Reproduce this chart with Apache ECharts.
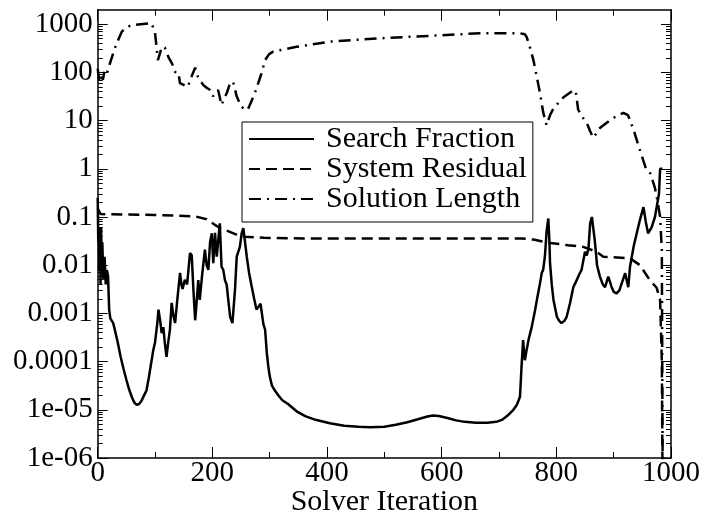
<!DOCTYPE html>
<html>
<head>
<meta charset="utf-8">
<script src="https://cdn.jsdelivr.net/npm/echarts@6/dist/echarts.min.js"></script>
<style>
html,body{margin:0;padding:0;background:#fff;}
#chart{width:704px;height:515px;}
</style>
</head>
<body>
<div id="chart"></div>
<script>
// ---- Data ----
const seriesNames = ['Search Fraction', 'System Residual', 'Solution Length'];

const sfIter = [0,1,2,3,4,5,6,7,8,10,12,14,16,18,20,22,27,30,35,40,45,50,55,60,64,68,72,76,80,85,89,93,97,100,104,106,109,111.6,114.5,117,120,123,126,129,132,135,139,143.6,146,148,152,156,161,164,167,170,173,175.5,178,182,187,190,193,196,199,201.6,204.6,207.6,210,213,216,219,222,225,228,231,235,239.5,242.5,248,251,254,257,260,264,268.6,273,277,281,284,286,289,292,295,297.6,300,304,309,315,322,332,347,362,380,405,430,455,475,500,520,540,560,575,585,595,610,625,640,660,680,695,705,715,725,731,736.6,739,742,745,748,752,757,763,767,771.5,774.5,777,780,783,786,788,789,792,795,801,805,809,814,818,824,829.6,835.5,840,844,850,853,856,859,862,864.5,867,871,876,881,885,890.6,896.5,900,905,910,914,920,925.5,928.5,935,945,952,956,960,966,972,975,979,981,983,985];
const sfVal = [0.25,0.03,0.06,0.008,0.05,0.004,0.06,0.01,0.03,0.005,0.015,0.004,0.008,0.006,0.0012,7.9e-4,6.3e-4,4.5e-4,2.5e-4,1.26e-4,7.1e-5,4.2e-5,2.6e-5,1.78e-5,1.41e-5,1.26e-5,1.32e-5,1.51e-5,1.9e-5,2.5e-5,4.5e-5,8.9e-5,1.74e-4,2.5e-4,6.3e-4,0.0012,7e-4,3.9e-4,5.2e-4,2.5e-4,1.26e-4,2.5e-4,4.6e-4,0.00166,0.0009,6.3e-4,0.002,0.0069,0.004,0.0032,0.005,0.004,0.0178,0.016,0.003,7.2e-4,0.002,0.0049,0.0019,0.006,0.021,0.01,0.008,0.03,0.046,0.011,0.047,0.015,0.03,0.074,0.0093,0.008,0.0049,0.0039,0.0018,8.5e-4,6.3e-4,0.0031,0.015,0.024,0.045,0.059,0.03,0.015,0.007,0.0036,0.002,0.0012,0.0014,0.0016,0.0015,6e-4,4.6e-4,1.5e-4,7.94e-5,5.01e-5,3.16e-5,2.51e-5,2.0e-5,1.58e-5,1.32e-5,9.3e-6,7.4e-6,6.2e-6,5.25e-6,4.68e-6,4.47e-6,4.37e-6,4.47e-6,4.9e-6,5.5e-6,6.46e-6,7.24e-6,7.59e-6,7.41e-6,6.76e-6,6.03e-6,5.62e-6,5.37e-6,5.37e-6,5.62e-6,6.17e-6,7.59e-6,1e-5,1.26e-5,1.86e-5,6.8e-5,2.8e-4,1.07e-4,1.7e-4,3e-4,5.2e-4,0.00118,0.0022,0.0042,0.0069,0.008,0.015,0.05,0.093,0.03,0.011,0.004,0.0019,8.5e-4,7e-4,6.3e-4,7e-4,8.5e-4,0.00166,0.0035,0.0049,0.0065,0.008,0.019,0.016,0.022,0.074,0.1,0.1,0.033,0.01,0.0058,0.004,0.0035,0.0058,0.0035,0.0028,0.0026,0.003,0.0042,0.0068,0.0035,0.0093,0.025,0.08,0.16,0.08,0.046,0.06,0.1,0.1,0.3,1.0,1.0,1.0];

const srIter = [0,5,50,100,140,170,190,205,215,222,240,257,290,360,500,740,760,789,820,847,870,882,928,946,963,975,981,984,986];
const srVal = [0.15,0.115,0.113,0.11,0.107,0.103,0.09,0.068,0.058,0.054,0.044,0.039,0.037,0.036,0.036,0.036,0.034,0.029,0.026,0.024,0.019,0.015,0.014,0.01,0.0049,0.0034,0.0019,1e-4,1e-8];

const slIter = [0,3,6,9,12,16,21.5,27,33,42,50,59,75,94,97,100,105,108,112,117,124,130,135,140.7,143.5,150,157,165,170,175,184,190,196,201,206,210,216,220,225,230,236,242.4,247,251,257,262,268,274,280,286,292,299,306,347,405,492,580,667,736,745,748,755,760,766,771.5,777,783,789,795,812,830,834,838,845,853,859,864.5,870,876,885,894,905,917,925,935,945,957,964,972,977,981,984,986];
const slVal = [120,62,95,70,110,95,155,250,400,700,850,960,1000,1050,1040,660,180,165,340,330,200,150,102,100,60,55,50,90,125,80,55,48,43,32,38,43,21,28,37,55,65,32,24,19.5,16.6,17,25,37,60,98,180,240,270,340,435,510,575,650,650,620,550,300,180,80,37,15,8,13,18,30,43,40,17,12,9,6,4.4,5.5,7,8.5,10.2,12.5,14.5,13,6.3,2.6,0.95,0.8,0.4,0.2,0.1,0.02,1e-8];

const xTickStep = 200;
const yTickValues = [1e-6,1e-5,1e-4,1e-3,1e-2,1e-1,1,10,100,1000];
const yTickLabels = ['1e-06','1e-05','0.0001','0.001','0.01','0.1','1','10','100','1000'];
const yMinorValues = [];
for (let e = -6; e <= 3; e++) {
  for (let m = 2; m <= 9; m++) {
    const v = m * Math.pow(10, e);
    if (v < 2000) yMinorValues.push(+v.toPrecision(3));
  }
}

// ---- Chart ----
const zip = (xs, ys) => xs.map((x, i) => [x, ys[i]]);
const FONT = 'Liberation Serif';

const chart = echarts.init(document.getElementById('chart'), null, {renderer: 'canvas'});

function yLabel(v) {
  for (let i = 0; i < yTickValues.length; i++) {
    if (Math.abs(Math.log10(v) - Math.log10(yTickValues[i])) < 1e-6) return yTickLabels[i];
  }
  return '';
}

const logBase = {
  type: 'log', logBase: 10, min: 1e-6, max: 2000,
  splitLine: {show: false}, minorSplitLine: {show: false}
};

const option = {
  animation: false,
  backgroundColor: '#fff',
  grid: {left: 97.7, right: 33, top: 9.7, bottom: 57, containLabel: false, outerBoundsMode: 'none'},
  legend: {
    orient: 'vertical', left: 242, top: 122,
    padding: [2, 6, 8, 6], itemGap: 0,
    itemWidth: 65, itemHeight: 29,
    borderColor: '#000', borderWidth: 1, backgroundColor: '#fff',
    itemStyle: {color: 'transparent', borderColor: 'transparent', borderWidth: 0},
    textStyle: {fontFamily: FONT, fontSize: 30, color: '#000', lineHeight: 29, padding: [0, 0, 0, 7]},
    data: seriesNames
  },
  xAxis: [
    {
      type: 'value', min: 0, max: 1000, interval: xTickStep, position: 'bottom',
      name: 'Solver Iteration', nameLocation: 'middle', nameGap: 29, nameMoveOverlap: false,
      nameTextStyle: {fontFamily: FONT, fontSize: 30, color: '#000'},
      axisLine: {show: true, lineStyle: {color: '#000', width: 1.5}},
      axisTick: {show: true, inside: true, length: 11, lineStyle: {color: '#000', width: 1}},
      minorTick: {show: true, splitNumber: 2, length: 6, lineStyle: {color: '#000', width: 1}},
      axisLabel: {fontFamily: FONT, fontSize: 29, color: '#000', margin: 1, formatter: v => String(v)},
      splitLine: {show: false}
    },
    {
      type: 'value', min: 0, max: 1000, interval: xTickStep, position: 'top',
      axisLine: {show: true, lineStyle: {color: '#000', width: 1.5}},
      axisTick: {show: true, inside: true, length: 11, lineStyle: {color: '#000', width: 1}},
      minorTick: {show: true, splitNumber: 2, length: 6, lineStyle: {color: '#000', width: 1}},
      axisLabel: {show: false},
      splitLine: {show: false}
    }
  ],
  yAxis: [
    Object.assign({}, logBase, {
      position: 'left',
      axisLine: {show: true, lineStyle: {color: '#000', width: 1.5}},
      axisTick: {show: true, inside: true, length: 10, customValues: yTickValues, lineStyle: {color: '#000', width: 1}},
      axisLabel: {show: true, customValues: yTickValues, formatter: yLabel, fontFamily: FONT, fontSize: 29, color: '#000', margin: 5}
    }),
    Object.assign({}, logBase, {
      position: 'left',
      axisLine: {show: false},
      axisTick: {show: true, inside: true, length: 5, customValues: yMinorValues, lineStyle: {color: '#000', width: 1}},
      axisLabel: {show: false}
    }),
    Object.assign({}, logBase, {
      position: 'right',
      axisLine: {show: true, lineStyle: {color: '#000', width: 1.5}},
      axisTick: {show: true, inside: true, length: 10, customValues: yTickValues, lineStyle: {color: '#000', width: 1}},
      axisLabel: {show: false}
    }),
    Object.assign({}, logBase, {
      position: 'right',
      axisLine: {show: false},
      axisTick: {show: true, inside: true, length: 5, customValues: yMinorValues, lineStyle: {color: '#000', width: 1}},
      axisLabel: {show: false}
    })
  ],
  series: [
    {
      name: seriesNames[0], type: 'line', xAxisIndex: 0, yAxisIndex: 0,
      data: zip(sfIter, sfVal), symbol: 'none', smooth: false, clip: true,
      lineStyle: {color: '#000', width: 2.5, type: 'solid'}, itemStyle: {color: '#000'}
    },
    {
      name: seriesNames[1], type: 'line', xAxisIndex: 0, yAxisIndex: 0,
      data: zip(srIter, srVal), symbol: 'none', smooth: false, clip: true,
      lineStyle: {color: '#000', width: 2.5, type: [11, 6]}, itemStyle: {color: '#000'}
    },
    {
      name: seriesNames[2], type: 'line', xAxisIndex: 0, yAxisIndex: 0,
      data: zip(slIter, slVal), symbol: 'none', smooth: false, clip: true,
      lineStyle: {color: '#000', width: 2.5, type: [12, 6, 2, 6]}, itemStyle: {color: '#000'}
    }
  ]
};
chart.setOption(option);
</script>
</body>
</html>
